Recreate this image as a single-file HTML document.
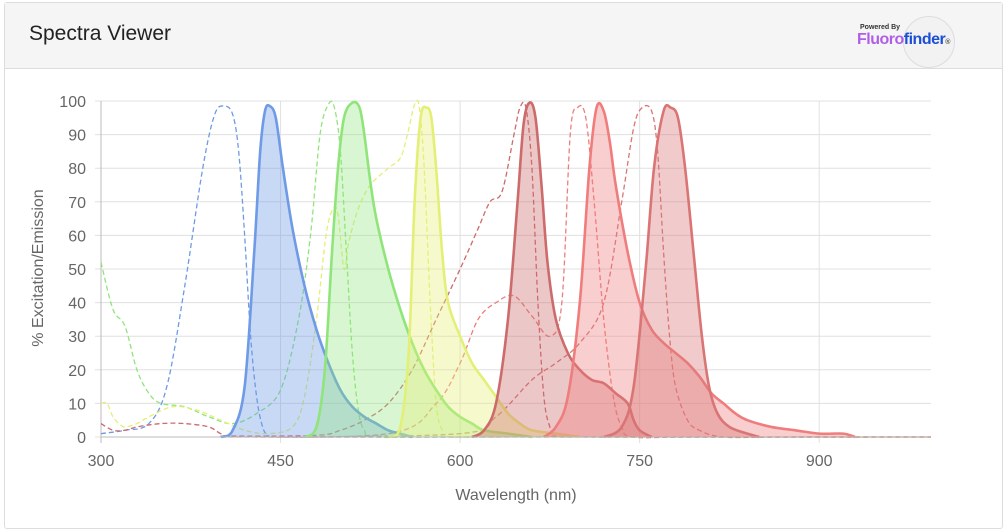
<!DOCTYPE html>
<html><head><meta charset="utf-8"><style>
body{margin:0;background:#fff;font-family:"Liberation Sans",sans-serif;}
.panel{position:absolute;left:4px;top:2px;width:997px;height:525px;border:1px solid #ddd;border-radius:3px;}
.head{height:65px;background:#f5f5f5;border-bottom:1px solid #ddd;}
.title{position:absolute;left:24px;top:19px;font-size:21px;color:#222;}
</style></head><body>
<div class="panel"><div class="head"></div><div class="title">Spectra Viewer</div>
<div style="position:absolute;left:898px;top:13px;width:50px;height:50px;border-radius:50%;border:1px solid #ddd;background:#f2f2f2"></div>
<div style="position:absolute;left:855px;top:21px;font-size:7px;color:#333;font-weight:bold">Powered By</div>
<div style="position:absolute;left:852px;top:28px;font-size:16px;font-weight:bold;letter-spacing:-0.5px"><span style="color:#b05ee8">Fluoro</span><span style="color:#1a4fd6">finder</span><span style="font-size:7px;color:#555">®</span></div>
</div>
<svg id="s" width="1005" height="530" style="position:absolute;left:0;top:0" font-family="Liberation Sans, sans-serif"></svg>
<script>
const X=n=>101+(n-300)*1.197, Y=v=>437-v*3.36;
let s='<defs><clipPath id="c"><rect x="101" y="99" width="830" height="340"/></clipPath></defs>';
for(let v=0;v<=100;v+=10){s+=`<line x1="95" x2="931" y1="${Y(v)}" y2="${Y(v)}" stroke="#e0e0e0"/><text x="86" y="${Y(v)+6}" font-size="16" fill="#666" text-anchor="end">${v}</text>`;}
for(const n of [300,450,600,750,900]){s+=`<line x1="${X(n)}" x2="${X(n)}" y1="101" y2="443" stroke="${n==300?'#bbb':'#e0e0e0'}"/><text x="${X(n)}" y="466" font-size="16" fill="#666" text-anchor="middle">${n}</text>`;}
s+=`<text x="516" y="500" font-size="16" fill="#666" text-anchor="middle">Wavelength (nm)</text>`;
s+=`<text transform="translate(43,268) rotate(-90)" font-size="16" fill="#666" text-anchor="middle">% Excitation/Emission</text>`;
s+='<g clip-path="url(#c)">';
function path(p){const q=p.map(([n,v])=>[X(n),Y(v)]);let d=`M${q[0][0]},${q[0][1]}`;
for(let i=0;i<q.length-1;i++){const p0=q[i-1]||q[i],p1=q[i],p2=q[i+1],p3=q[i+2]||p2;
d+=`C${p1[0]+(p2[0]-p0[0])/6},${p1[1]+(p2[1]-p0[1])/6} ${p2[0]-(p3[0]-p1[0])/6},${p2[1]-(p3[1]-p1[1])/6} ${p2[0]},${p2[1]}`;}return d;}
function ex(p,c){s+=`<path d="${path(p)}" fill="none" stroke="${c}" stroke-width="1.3" stroke-dasharray="5,3"/>`;}
function em(p,c,f){const d=path(p);s+=`<path d="${d}L${X(p[p.length-1][0])},437L${X(p[0][0])},437Z" fill="${f}"/><path d="${d}" fill="none" stroke="${c}" stroke-width="2.6"/>`;}
const B='#6f9ae6',G='#8fe57a',Yl='#e4ef78',R1='#cc6b6b',R2='#ef7d7d',R3='#d97575';
ex([[300,1],[320,2],[340,4],[355,15],[370,45],[385,80],[395,96],[403,98.5],[410,96],[415,85],[420,60],[425,30],[430,12],[435,3],[440,0.5],[450,0],[700,0],[1000,0]],B);
ex([[300,52],[310,38],[320,33],[330,20],[340,13],[350,10],[370,9],[390,6],[410,4],[430,7],[450,14],[465,35],[475,60],[483,90],[490,99],[495,98],[500,85],[505,55],[510,25],[515,8],[520,2],[530,0],[600,0],[1000,0]],G);
ex([[300,10],[305,10],[310,6],[315,4],[320,3],[330,4],[340,6],[360,9],[380,8],[400,5],[420,2],[440,1],[460,3],[470,12],[480,35],[488,60],[494,68],[498,66],[503,50],[507,58],[515,68],[525,75],[540,80],[550,83],[556,90],[562,99],[566,98],[570,80],[575,40],[580,10],[585,2],[590,0],[650,0],[1000,0]],Yl);
ex([[300,4],[310,2],[320,2],[330,3],[350,4],[370,4],[390,3],[400,1],[410,0.3],[480,0.5],[500,2],[520,5],[540,10],[560,20],[580,35],[600,50],[615,62],[625,70],[635,73],[645,90],[650,98],[655,98],[660,80],[665,40],[670,12],[675,3],[680,0.5],[700,0],[1000,0]],R1);
ex([[400,0],[540,1],[580,10],[600,22],[615,35],[630,40],[645,42],[660,36],[675,30],[685,40],[692,90],[698,98],[705,95],[712,70],[720,35],[728,12],[735,3],[745,0],[800,0],[1000,0]],R2);
ex([[450,0],[600,1],[630,6],[660,17],[680,22],[700,28],[720,40],[735,70],[745,92],[752,98],[760,97],[765,85],[770,55],[775,30],[780,15],[790,5],[800,2],[820,0],[870,0],[1000,0]],R3);
em([[400,0],[410,2],[420,15],[428,55],[433,85],[437,97],[441,98.5],[446,95],[452,80],[460,62],[470,45],[480,32],[490,22],[500,14],[510,9],[520,6],[530,4],[540,2],[550,1],[560,0]],B,'rgba(111,154,230,0.38)');
em([[470,0],[480,3],[487,20],[493,55],[498,80],[503,95],[510,99.5],[516,98],[520,90],[525,76],[530,65],[540,50],[550,38],[560,28],[570,20],[580,14],[590,9],[600,6],[610,4],[620,2],[640,1],[660,0]],G,'rgba(143,229,122,0.35)');
em([[540,0],[550,3],[557,25],[562,70],[567,95],[572,98],[576,95],[580,80],[585,55],[590,40],[600,30],[610,22],[620,17],[630,12],[640,7],[650,4],[660,2],[680,1],[700,0]],Yl,'rgba(228,239,120,0.38)');
em([[610,0],[620,2],[630,10],[640,35],[648,70],[653,93],[658,99.5],[663,95],[668,75],[673,52],[680,35],[690,25],[700,20],[710,17],[720,16],[730,13],[740,10],[745,5],[750,2],[760,0]],R1,'rgba(204,107,107,0.38)');
em([[670,0],[680,3],[690,12],[700,40],[708,80],[714,98],[720,97],[725,88],[730,75],[740,55],[750,40],[760,32],[770,28],[780,25],[790,22],[800,18],[810,13],[820,10],[830,7],[840,5],[860,3],[880,2],[900,1],[920,1],[930,0]],R2,'rgba(239,125,125,0.38)');
em([[720,0],[735,3],[745,15],[755,50],[762,80],[770,97],[776,98],[782,95],[788,80],[795,55],[802,30],[808,15],[815,7],[825,3],[840,1],[850,0]],R3,'rgba(217,117,117,0.38)');
s+='</g>';
s+=`<line x1="101" x2="931" y1="437" y2="437" stroke="#bbb"/>`;
document.getElementById('s').innerHTML=s;
</script>
</body></html>
